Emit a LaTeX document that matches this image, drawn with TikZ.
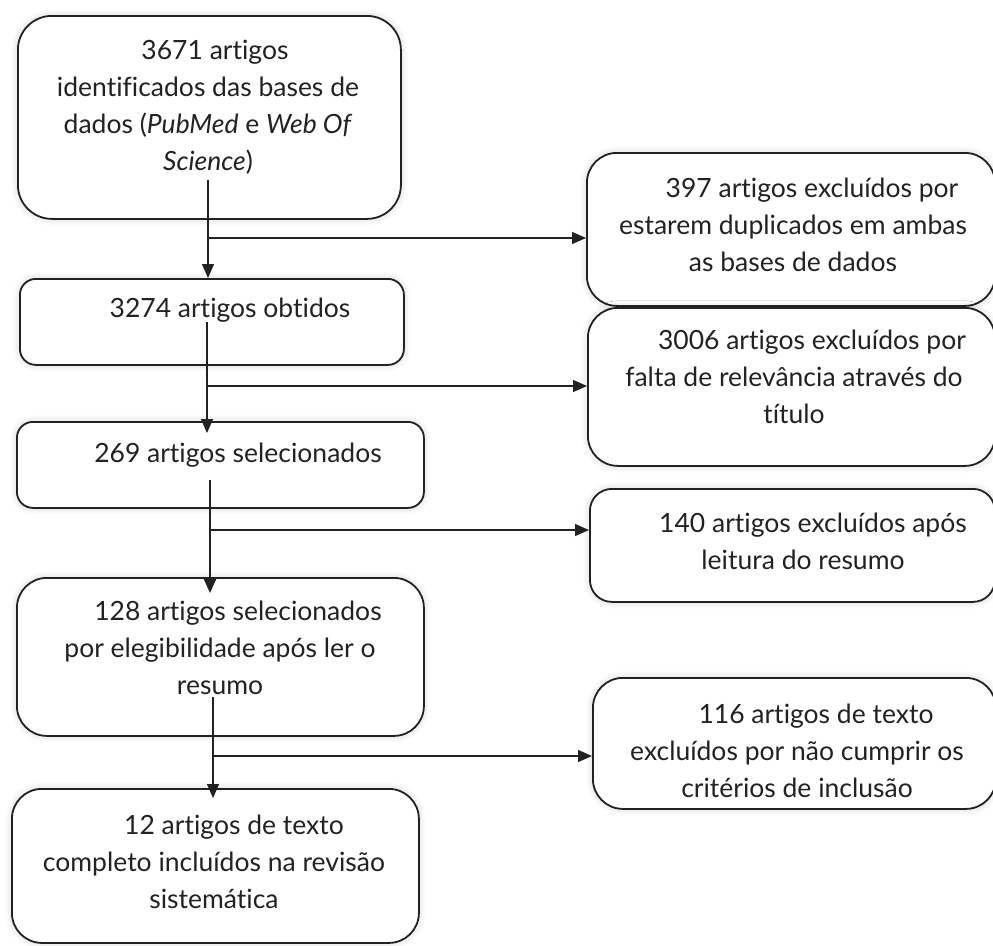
\documentclass[tikz,border=0pt]{standalone}
\usepackage{fontspec}
\setmainfont{Lato}[Ligatures=NoCommon]
\usetikzlibrary{arrows.meta,shadows.blur}
\definecolor{ink}{HTML}{222222}
\tikzset{
  box/.style={draw=ink, line width=1.8pt, fill=white, anchor=north west,
    blur shadow={shadow xshift=0pt, shadow yshift=0pt, shadow blur radius=7pt, shadow blur steps=6, shadow opacity=18}},
  txt/.style={align=center, font=\fontsize{26.5}{37}\selectfont, text=ink, inner sep=0pt},
  conn/.style={draw=ink, line width=1.3pt},
  arr/.style={conn, -{Triangle[length=14pt,width=12pt]}},
}
\begin{document}
\begin{tikzpicture}[x=1pt,y=-1pt]
\useasboundingbox (0,0) rectangle (993,945);
\clip (0,0) rectangle (993,945);
% boxes
\node[box, rounded corners=34pt, minimum width=383pt, minimum height=203pt] (b1) at (17,15) {};
\node[box, rounded corners=30pt, minimum width=408pt, minimum height=153pt] (b397) at (586,152) {};
\node[box, rounded corners=30pt, minimum width=407pt, minimum height=158pt] (b3006) at (587,307) {};
\node[box, rounded corners=16pt, minimum width=384pt, minimum height=86pt] (b3274) at (19,278) {};
\node[box, rounded corners=16pt, minimum width=407pt, minimum height=86pt] (b269) at (16,421) {};
\node[box, rounded corners=22pt, minimum width=405pt, minimum height=113pt] (b140) at (589,488) {};
\node[box, rounded corners=30pt, minimum width=407pt, minimum height=158pt] (b128) at (16,577) {};
\node[box, rounded corners=30pt, minimum width=403pt, minimum height=131pt] (b116) at (592,677) {};
\node[box, rounded corners=30pt, minimum width=407pt, minimum height=154pt] (b12) at (11,788) {};
% texts
\node[txt] (t1) at (208,107) {\hspace*{14pt}3671 artigos\\identificados das bases de\\dados (\textit{PubMed} e \textit{Web Of}\\\textit{Science})};
\node[txt] (t397) at (793,225) {\hspace*{38pt}397 artigos excluídos por\\estarem duplicados em ambas\\as bases de dados};
\node[txt] (t3006) at (794,377) {\hspace*{36pt}3006 artigos excluídos por\\falta de relevância através do\\título};
\node[txt] (t3274) at (230,310) {3274 artigos obtidos};
\node[txt] (t269) at (238,455) {269 artigos selecionados};
\node[txt] (t140) at (803,541) {\hspace*{20pt}140 artigos excluídos após\\leitura do resumo\hspace*{0pt}};
\node[txt] (t128) at (220,648) {\hspace*{36pt}128 artigos selecionados\\por elegibilidade após ler o\\resumo};
\node[txt] (t116) at (797,751) {\hspace*{38pt}116 artigos de texto\\excluídos por não cumprir os\\critérios de inclusão};
\node[txt] (t12) at (214,862) {\hspace*{40pt}12 artigos de texto\\completo incluídos na revisão\\sistemática};
% connector coordinates
\coordinate (s1) at (208,180);
\coordinate (e1) at (208,278);
\coordinate (j1) at (208,238);
\coordinate (s2) at (207,322);
\coordinate (e2) at (207,433);
\coordinate (j2) at (207,386);
\coordinate (s3) at (210,480);
\coordinate (e3) at (210,593);
\coordinate (j3) at (210,530);
\coordinate (s4) at (213,697);
\coordinate (e4) at (213,798);
\coordinate (j4) at (213,756);
% connectors
\draw[arr] (s1) -- (e1);
\draw[arr] (j1) -- (b397.west |- j1);
\draw[arr] (s2) -- (e2);
\draw[arr] (j2) -- (b3006.west |- j2);
\draw[arr, line width=2.2pt] (s3) -- (e3);
\draw[arr] (j3) -- (b140.west |- j3);
\draw[arr] (s4) -- (e4);
\draw[arr] (j4) -- (b116.west |- j4);
\end{tikzpicture}
\end{document}
